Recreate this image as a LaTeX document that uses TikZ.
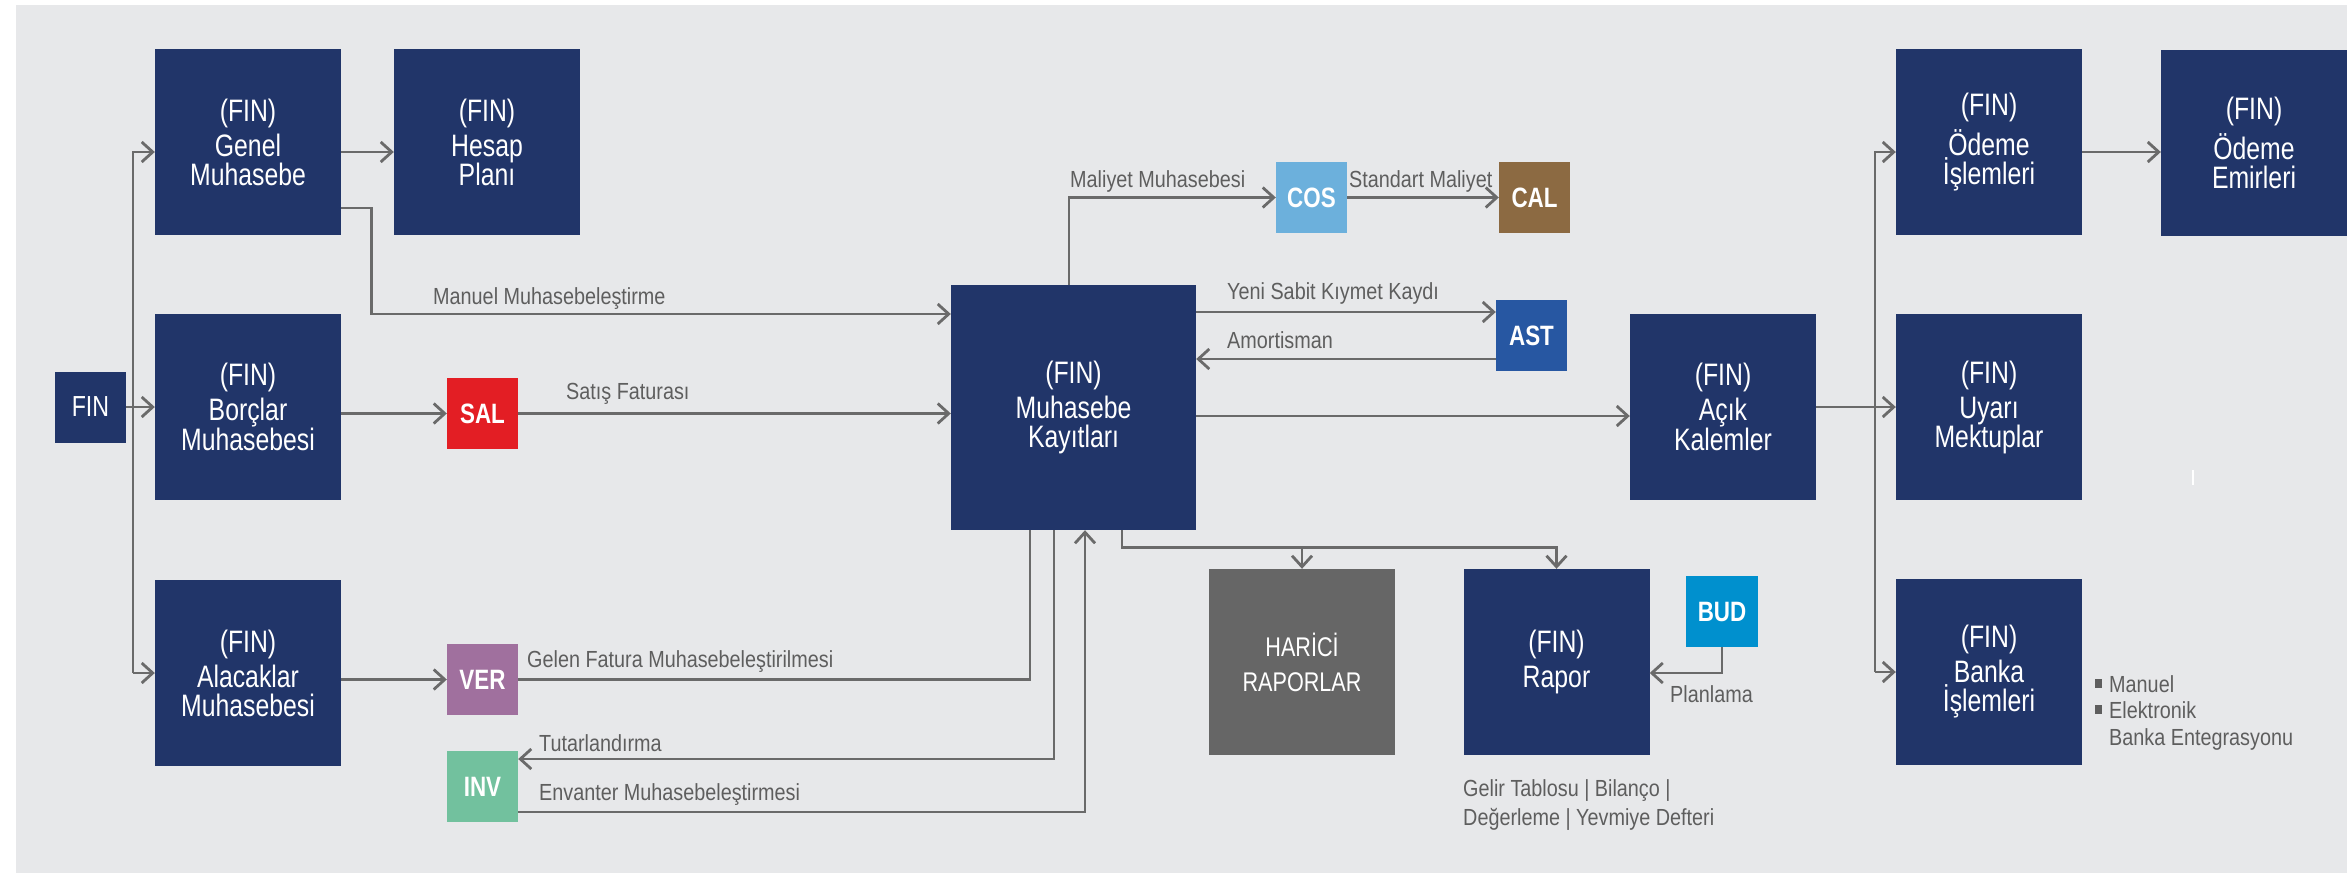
\documentclass[tikz,border=0pt]{standalone}
\usepackage{fontspec}
\setmainfont{Liberation Sans}[FakeStretch=0.85]
\newfontfamily\condfont{Liberation Sans}[FakeStretch=0.8]
\usetikzlibrary{arrows.meta,calc}
\definecolor{navy}{HTML}{213569}
\definecolor{bgc}{HTML}{E7E8EA}
\definecolor{lnc}{HTML}{6A6A6A}
\definecolor{txc}{HTML}{5E5E5E}
\definecolor{salc}{HTML}{E31E24}
\definecolor{verc}{HTML}{A0709E}
\definecolor{invc}{HTML}{72C19E}
\definecolor{cosc}{HTML}{6CB0DC}
\definecolor{calcol}{HTML}{8C6A42}
\definecolor{astc}{HTML}{2757A2}
\definecolor{budc}{HTML}{0090CE}
\definecolor{harc}{HTML}{666666}
\begin{document}
\begin{tikzpicture}[x=1pt,y=-1pt,
  bigbox/.style={fill=navy,text=white,minimum width=186pt,minimum height=186pt,inner sep=0pt,align=center,font=\condfont\fontsize{31}{29}\selectfont},
  code/.style={text=white,minimum width=71pt,minimum height=71pt,inner sep=0pt,font=\condfont\fontsize{28}{28}\selectfont\bfseries},
  lab/.style={text=txc,anchor=base west,inner sep=0pt,font=\fontsize{23.3}{23}\selectfont},
  arr/.style={draw=lnc,line width=2.8pt,-{Straight Barb[length=11pt,width=20pt,line width=2.8pt]}},
  ln/.style={draw=lnc,line width=2.8pt}]
\fill[white] (0,0) rectangle (2347,875);
\useasboundingbox (0,0) rectangle (2347,875);
\fill[bgc] (16,5) rectangle (2347,873);
% boxes
\node[bigbox,minimum width=71pt,minimum height=71pt,font=\condfont\fontsize{29}{29}\selectfont] (fin) at (90.5,407) {FIN};
\node[bigbox] (genel) at (248,142) {(FIN)\\[6pt]Genel\\Muhasebe};
\node[bigbox] (hesap) at (487,142) {(FIN)\\[6pt]Hesap\\Planı};
\node[bigbox] (borc) at (248,407) {(FIN)\\[6pt]Borçlar\\Muhasebesi};
\node[bigbox] (alac) at (248,673) {(FIN)\\[6pt]Alacaklar\\Muhasebesi};
\node[code,fill=salc] (sal) at (482.5,413.5) {SAL};
\node[code,fill=verc] (ver) at (482.5,679.5) {VER};
\node[code,fill=invc] (inv) at (482.5,786.5) {INV};
\node[bigbox,minimum width=245pt,minimum height=245pt] (mk) at (1073.5,407.5) {(FIN)\\[6pt]Muhasebe\\Kayıtları};
\node[code,fill=cosc] (cos) at (1311.5,197.5) {COS};
\node[code,fill=calcol] (cal) at (1534.5,197.5) {CAL};
\node[code,fill=astc] (ast) at (1531.5,335.5) {AST};
\node[bigbox] (acik) at (1723,407) {(FIN)\\[6pt]Açık\\Kalemler};
\node[bigbox,fill=harc,font=\condfont\fontsize{27}{35}\selectfont] (harici) at (1302,662) {HARİCİ\\RAPORLAR};
\node[bigbox] (rapor) at (1556.5,662) {(FIN)\\[6pt]Rapor};
\node[code,fill=budc,minimum width=72pt] (bud) at (1722,611.5) {BUD};
\node[bigbox] (odis) at (1989,142) {(FIN)\\[6pt]Ödeme\\İşlemleri};
\node[bigbox] (odem) at (2254,143) {(FIN)\\[6pt]Ödeme\\Emirleri};
\node[bigbox] (uyari) at (1989,407) {(FIN)\\[6pt]Uyarı\\Mektuplar};
\node[bigbox] (banka) at (1989,672) {(FIN)\\[6pt]Banka\\İşlemleri};
% connectors
\coordinate (lt) at (133,0);
\coordinate (rt) at (1875,0);
\path ([yshift=-10pt]genel.west) coordinate (genin);
\draw[arr] (lt |- alac) -- (lt |- genin) -- (genin);
\draw[arr] (lt |- alac) -- (alac.west);
\draw[arr] (fin.east) -- (fin.east -| borc.west);
\draw[arr] (genin -| genel.east) -- (genin -| hesap.west);
\path ([yshift=-66pt]genel.east) coordinate (manout);
\path ([yshift=93.5pt]mk.west) coordinate (manin);
\draw[arr] (manout) -- ++(30,0) |- (manin);
\draw[arr] (borc.east |- sal) -- (sal.west);
\draw[arr] (sal.east) -- (sal.east -| mk.west);
\draw[arr] (alac.east |- ver) -- (ver.west);
\draw[ln] (ver.east) -| ([xshift=-43.5pt]mk.south);
\path ([yshift=27.5pt]inv.east) coordinate (tutin);
\draw[arr] ([xshift=-19.5pt]mk.south) |- (tutin);
\path ([yshift=-25.5pt]inv.east) coordinate (envout);
\draw[arr] (envout) -| ([xshift=11.5pt]mk.south);
\path ([yshift=21pt]rapor.north) coordinate (rapj);
\draw[arr] ([xshift=48.5pt]mk.south) |- (rapj) -- (rapor.north);
\draw[arr] (harici.north |- rapj) -- (harici.north);
\draw[arr] ([xshift=-4.5pt]mk.north) |- (cos.west);
\draw[arr] (cos.east) -- (cal.west);
\path ([yshift=23.5pt]ast.west) coordinate (astin);
\draw[arr] (astin -| mk.east) -- (astin);
\path ([yshift=-23.5pt]ast.west) coordinate (astout);
\draw[arr] (astout) -- (astout -| mk.east);
\path ([yshift=-9pt]acik.west) coordinate (acin);
\draw[arr] (acin -| mk.east) -- (acin);
\draw[arr] (acik.east) -- (uyari.west);
\path ([yshift=-10pt]odis.west) coordinate (odin);
\draw[arr] (rt |- banka) -- (rt |- odin) -- (odin);
\draw[arr] (rt |- banka) -- (banka.west);
\draw[arr] (odin -| odis.east) -- (odin -| odem.west);
\path ([yshift=-11pt]rapor.east) coordinate (budin);
\draw[arr] (bud.south) |- (budin);
% labels
\node[lab] (lman) at (433,304) {Manuel Muhasebeleştirme};
\node[lab] (lsat) at (566,399) {Satış Faturası};
\node[lab] (lgel) at (527,667) {Gelen Fatura Muhasebeleştirilmesi};
\node[lab] (ltut) at (539,751) {Tutarlandırma};
\node[lab] (lenv) at (539,800) {Envanter Muhasebeleştirmesi};
\node[lab] (lmal) at (1070,187) {Maliyet Muhasebesi};
\node[lab] (lstd) at (1349,187) {Standart Maliyet};
\node[lab] (lyeni) at (1227,299) {Yeni Sabit Kıymet Kaydı};
\node[lab] (lamo) at (1227,348) {Amortisman};
\node[lab] (lplan) at (1670,702) {Planlama};
\node[lab] (lgr1) at (1463,796) {Gelir Tablosu | Bilanço |};
\node[lab] (lgr2) at (1463,825) {Değerleme | Yevmiye Defteri};
\node[lab] (lbm) at (2109,692) {Manuel};
\node[lab] (lbe) at (2109,718) {Elektronik};
\node[lab] (lbb) at (2109,745) {Banka Entegrasyonu};
\fill[txc] (2095,679) rectangle (2102,688);
\fill[txc] (2095,705) rectangle (2102,714);
\draw[white,line width=1.5pt] (2193,470) -- (2193,485);
\end{tikzpicture}
\end{document}
